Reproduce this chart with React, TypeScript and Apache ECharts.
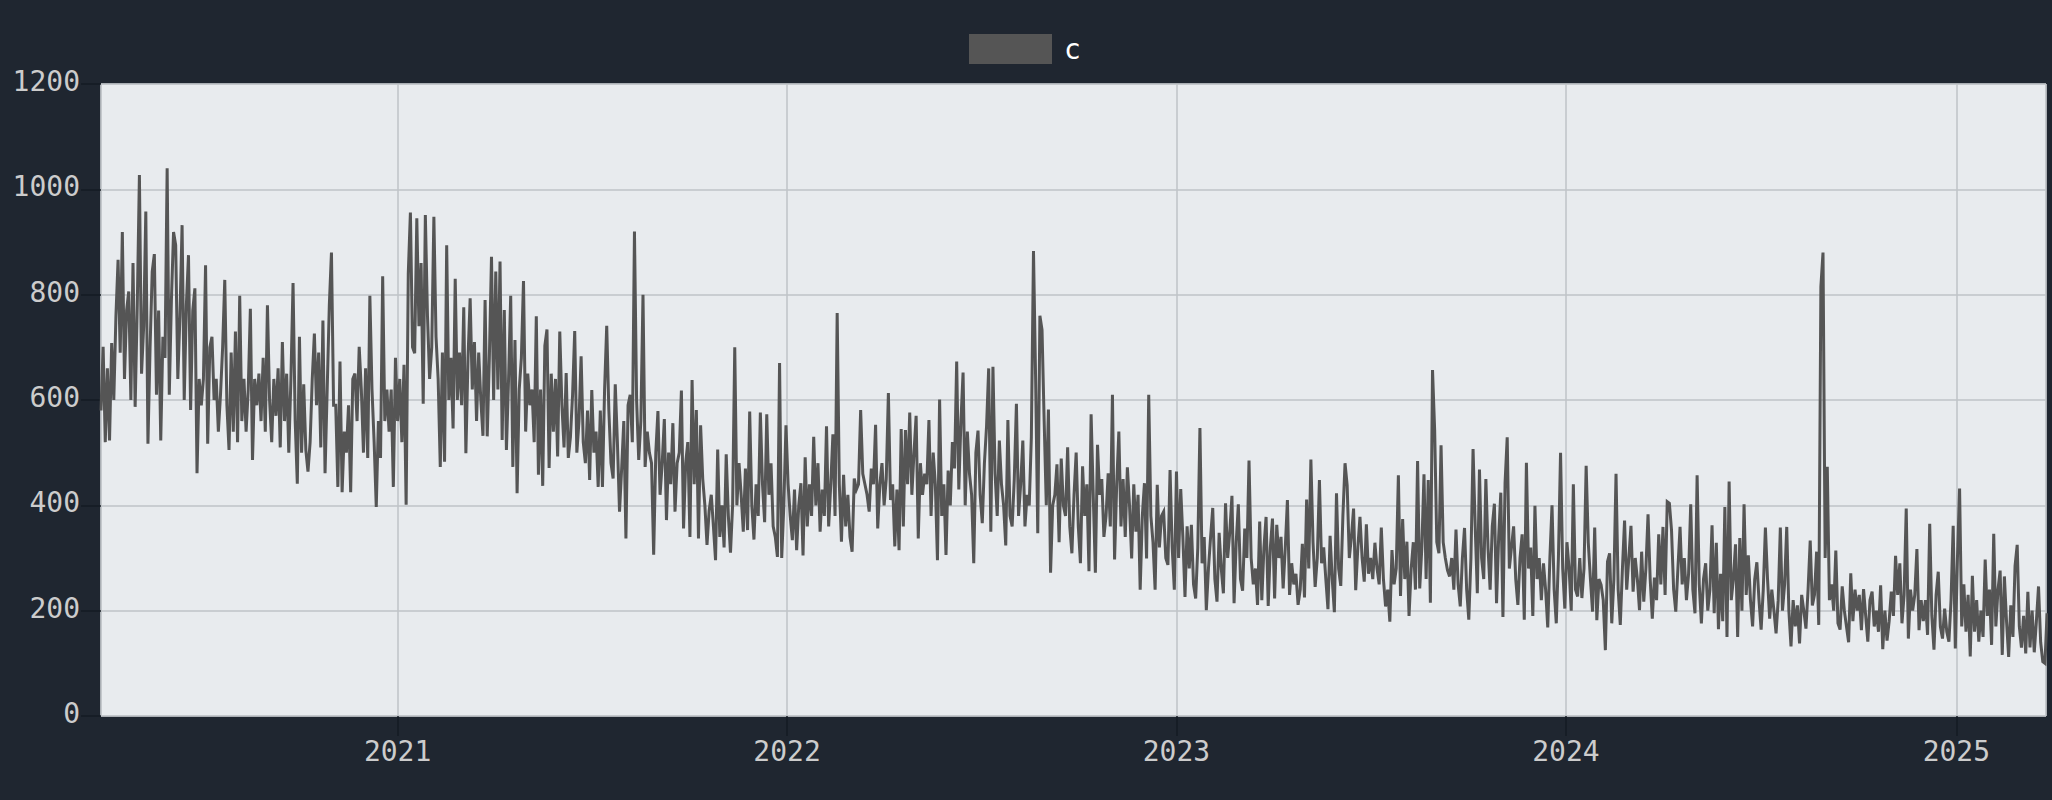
import React, { useEffect, useRef } from "react";
import * as echarts from "echarts";

const SERIES_NAME = "c";
const START = [2020, 2, 29];
const STEP_DAYS = 2;
const Y_TICKS = [0, 200, 400, 600, 800, 1000, 1200];

const values2020 = [580,701,520,660,523,708,600,760,866,690,919,640,770,806,600,860,587,780,1027,650,740,958,517,700,844,877,610,770,523,720,680,1040,610,790,919,894,640,760,932,600,780,875,581,770,812,461,640,590,640,856,517,700,720,600,640,540,610,700,828,590,505,690,540,730,520,798,560,640,540,620,773,486,640,590,650,560,680,540,780,600,520,640,570,660,510,710,560,650,500,640,822,560,441,720,500,630,505,464,520,640,726,590,690,510,751,461,620,780,880,590,590,435,673,425,540,500,590,425,640,650,560,701,620,500,660,490,798,620,520,397,560,490,835,560,620,540,620,435,680];
const values2021 = [560,640,520,667,401,840,956,700,689,945,740,860,593,951,760,640,700,948,720,640,473,690,483,894,600,680,546,830,600,690,590,776,499,680,793,620,710,560,690,600,532,790,531,680,872,600,844,620,863,524,771,505,640,798,473,714,423,620,680,826,540,650,590,620,520,759,458,620,437,703,734,471,650,540,640,493,730,590,510,651,490,530,610,731,500,560,683,520,480,580,448,619,500,540,435,580,435,620,741,580,480,451,630,520,388,470,560,337,590,610,520,920,600,486,560,800,473,540,500,480,306,500,579,420,480,564,372,500,440,556,388,480,500,618,356,480,520,340,638,440,581,337,552,450,400,325,390,420,360,296,506,340,400,320,497,380,310,400,700,400,480,420,350,470,353,578,400,335,440,380,576,440,368,573,420,480,360,340,302,670,300,400,552];
const values2022 = [440,380,334,430,315,400,442,305,491,360,440,380,530,400,480,350,430,380,550,360,440,535,380,765,440,331,458,360,420,340,312,451,430,440,581,460,440,420,388,470,440,553,356,440,480,400,450,613,410,440,322,430,315,545,360,543,440,576,420,500,570,337,480,420,460,440,562,380,500,440,296,601,380,440,306,466,400,520,470,673,430,560,652,400,540,460,420,290,500,542,420,366,480,550,660,350,663,460,380,523,440,400,324,562,380,360,450,593,380,440,523,360,420,400,530,883,640,347,760,733,560,400,582,272,400,420,478,330,489,400,380,510,360,309,420,500,360,290,474,380,440,275,573,420,272,515,420,450,340,380,461,360,610,297,440,540,360,450,340,472,400,299,440,350,420,240,380,442,299,610,380,330,240,439,320,380,388,300,287,467,320,240,464];
const values2023 = [300,431,340,226,360,280,363,250,223,320,547,290,340,201,280,340,395,260,217,348,280,233,404,300,350,418,214,330,402,260,238,356,300,485,300,250,280,211,369,220,320,378,209,320,375,223,363,300,340,242,320,410,230,290,250,270,211,240,327,225,411,280,487,330,245,300,448,290,320,260,203,342,260,197,423,280,247,380,480,438,300,340,394,239,320,378,300,255,364,270,300,260,329,280,250,358,260,208,240,179,315,250,280,457,228,374,260,331,190,280,330,240,484,242,320,459,260,448,215,657,543,330,309,514,330,300,277,265,300,240,354,250,208,300,357,240,183,300,507,360,233,468,300,260,450,320,240,360,403,214,340,424,188,443,529,280,320,360,260,211,300,345,183,481,280,320,190,399,260,300,220,290,240,168,300,400,240,176,300,500,280,204,330];
const values2024 = [280,200,440,240,227,300,224,280,475,329,260,198,358,182,260,249,220,125,293,309,176,260,460,240,173,280,371,240,300,361,236,300,260,201,312,217,280,383,260,185,263,220,345,250,359,230,407,404,353,240,198,280,359,250,300,220,270,402,240,195,457,250,176,260,290,200,240,362,195,329,165,270,180,397,150,445,220,260,326,150,338,200,402,230,305,220,170,260,292,220,164,240,358,260,185,240,200,157,220,358,200,250,359,200,132,220,170,210,138,230,200,166,240,333,210,230,312,173,815,880,300,473,220,250,200,314,176,164,246,200,170,140,271,180,240,200,230,163,241,190,141,220,236,170,200,160,248,127,200,143,180,236,190,304,230,290,176,230,394,147,240,200,230,317,163,220,180,220,154,365,190,126,230,274,170,147,204,160,141,220,361,128,300];
const values2025 = [432,170,250,160,230,113,266,160,220,141,200,150,297,190,240,135,346,170,240,276,116,265,180,112,210,150,285,325,170,130,190,119,236,130,200,121,180,246,140,103,100,195];

export default function App() {
  const ref = useRef<HTMLDivElement>(null);
  useEffect(() => {
    document.body.style.margin = "0";
    const chart = echarts.init(ref.current!, null, { renderer: "svg" });
    const all = [...values2020, ...values2021, ...values2022, ...values2023, ...values2024, ...values2025];
    const data = all.map((v, i) => [new Date(START[0], START[1], START[2] + i * STEP_DAYS).getTime(), v]);
    const font = "'DejaVu Sans Mono', monospace";
    chart.setOption({
      animation: false,
      backgroundColor: "#1f2630",
      legend: {
        show: true,
        left: 964,
        top: 29,
        itemWidth: 83,
        itemHeight: 30,
        itemGap: 10,
        icon: "rect",
        data: [SERIES_NAME],
        textStyle: { color: "#ffffff", fontFamily: font, fontSize: 28, padding: [0, 0, 0, 7] },
      },
      grid: {
        left: 101,
        right: 6,
        top: 84,
        bottom: 84,
        show: true,
        outerBoundsMode: "none",
        backgroundColor: "#e8ebee",
        borderWidth: 1,
        borderColor: "#bfc3c7",
      },
      xAxis: {
        type: "time",
        min: new Date(START[0], START[1], START[2]).getTime(),
        max: new Date(2025, 2, 26).getTime(),
        minInterval: 365 * 86400000,
        splitNumber: 5,
        axisLine: { show: false },
        axisTick: { show: true, length: 20, lineStyle: { color: "#151b23", width: 1.5 } },
        axisLabel: {
          color: "#cccccc",
          fontFamily: font,
          fontSize: 28,
          margin: 21,
          showMinLabel: false,
          showMaxLabel: false,
          formatter: "{yyyy}",
        },
        splitLine: { show: true, lineStyle: { color: "#bfc3c7", width: 1.5 } },
      },
      yAxis: {
        type: "value",
        min: Y_TICKS[0],
        max: Y_TICKS[Y_TICKS.length - 1],
        interval: 200,
        axisLine: { show: false },
        axisTick: { show: true, length: 20, lineStyle: { color: "#151b23", width: 1.5 } },
        axisLabel: { color: "#cccccc", fontFamily: font, fontSize: 28, margin: 21, verticalAlign: "bottom", lineHeight: 5, formatter: (v: number) => String(v) },
        splitLine: { show: true, lineStyle: { color: "#bfc3c7", width: 1.5 } },
      },
      series: [
        {
          name: SERIES_NAME,
          type: "line",
          data,
          showSymbol: false,
          symbol: "none",
          itemStyle: { color: "#555555" },
          lineStyle: { color: "#555555", width: 3, join: "miter", miterLimit: 4 },
        },
      ],
    });
    return () => chart.dispose();
  }, []);
  return <div ref={ref} style={{ width: 2052, height: 800 }} />;
}
